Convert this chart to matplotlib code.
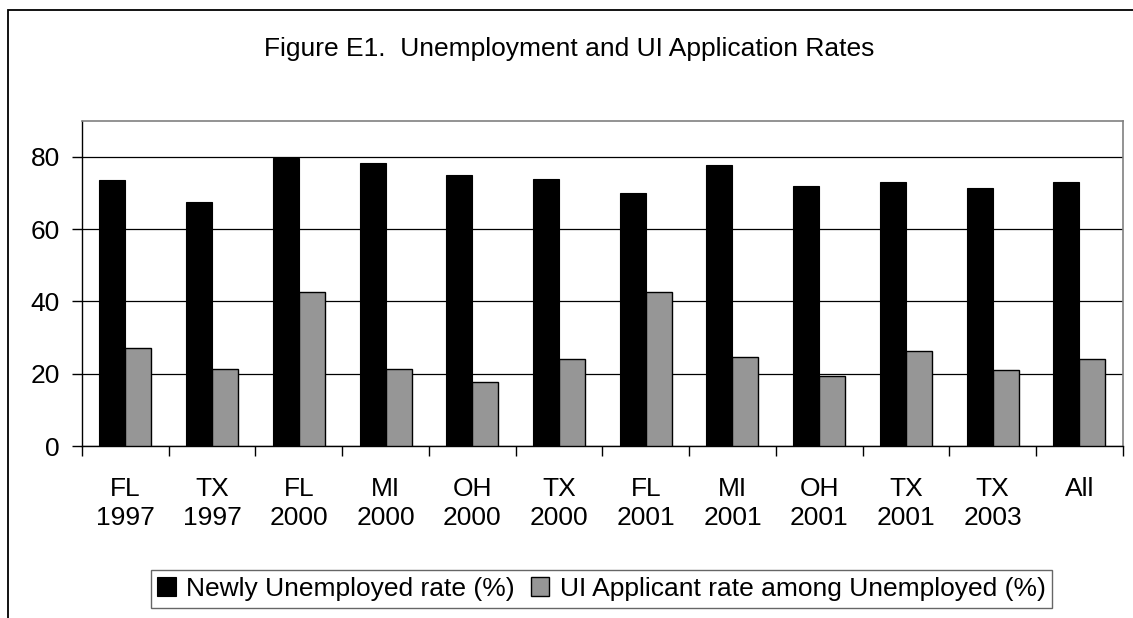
import numpy as np
import matplotlib
matplotlib.use("Agg")
import matplotlib.pyplot as plt
from matplotlib.patches import Rectangle

plt.rcParams['font.family'] = ['Liberation Sans', 'DejaVu Sans']

# data
states = ["FL", "TX", "FL", "MI", "OH", "TX", "FL", "MI", "OH", "TX", "TX", "All"]
years = ["1997", "1997", "2000", "2000", "2000", "2000", "2001", "2001", "2001", "2001", "2003", ""]
newly_unemp = [73.6, 67.4, 79.7, 78.2, 75.1, 74.0, 70.0, 77.7, 72.0, 73.0, 71.4, 73.0]
ui_applicant = [27.1, 21.2, 42.6, 21.2, 17.6, 24.2, 42.6, 24.6, 19.4, 26.3, 21.1, 24.2]

labels = [s + "\n" + y for s, y in zip(states, years)]
n = len(labels)
x = np.arange(n) + 0.5
w = 0.3
fs = 19

fig = plt.figure(figsize=(11.33, 6.18), dpi=100)
ax = fig.add_axes([0.0724, 0.2783, 0.9185, 0.5264])

# outer chart frame (runs off the right and bottom of the picture)
fig.patches.append(Rectangle((8 / 1133, -0.05), 1.1, 1 - 9.7 / 618 + 0.05,
                             transform=fig.transFigure, fill=False,
                             edgecolor='black', linewidth=1.3))

ax.bar(x - w / 2, newly_unemp, w, color='black', edgecolor='black',
       linewidth=0.8, label="Newly Unemployed rate (%)", zorder=3)
ax.bar(x + w / 2, ui_applicant, w, color='#969696', edgecolor='black',
       linewidth=1.0, label="UI Applicant rate among Unemployed (%)", zorder=3)

ax.set_xlim(0, n)
ax.set_ylim(0, 90)
ax.set_yticks([0, 20, 40, 60, 80])
ax.yaxis.grid(True, color='black', linewidth=0.9, zorder=1)
ax.set_axisbelow(True)

ax.set_xticks(x)
ax.set_xticklabels(labels, fontsize=fs, linespacing=1.3)
ax.set_xticks(np.arange(n + 1), minor=True)
ax.tick_params(axis='x', which='major', length=0, pad=22)
ax.tick_params(axis='x', which='minor', length=7, width=1, direction='out')
ax.tick_params(axis='y', length=7, width=1, direction='out', pad=9, labelsize=fs)

for side in ['top', 'right']:
    ax.spines[side].set_color('#808080')
    ax.spines[side].set_linewidth(1.2)
for side in ['left', 'bottom']:
    ax.spines[side].set_color('black')
    ax.spines[side].set_linewidth(1.0)

fig.text(0.502, 0.921, "Figure E1.  Unemployment and UI Application Rates",
         ha='center', va='center', fontsize=fs)

leg = fig.legend(loc='center', bbox_to_anchor=(0.531, 0.047), ncol=2,
                 fontsize=fs, frameon=True, fancybox=False,
                 handlelength=0.7, handleheight=0.7, handletextpad=0.4,
                 columnspacing=0.6, borderpad=0.25, borderaxespad=0)
leg.get_frame().set_edgecolor('#404040')
leg.get_frame().set_linewidth(1.0)

fig.savefig("out.png", dpi=100)
